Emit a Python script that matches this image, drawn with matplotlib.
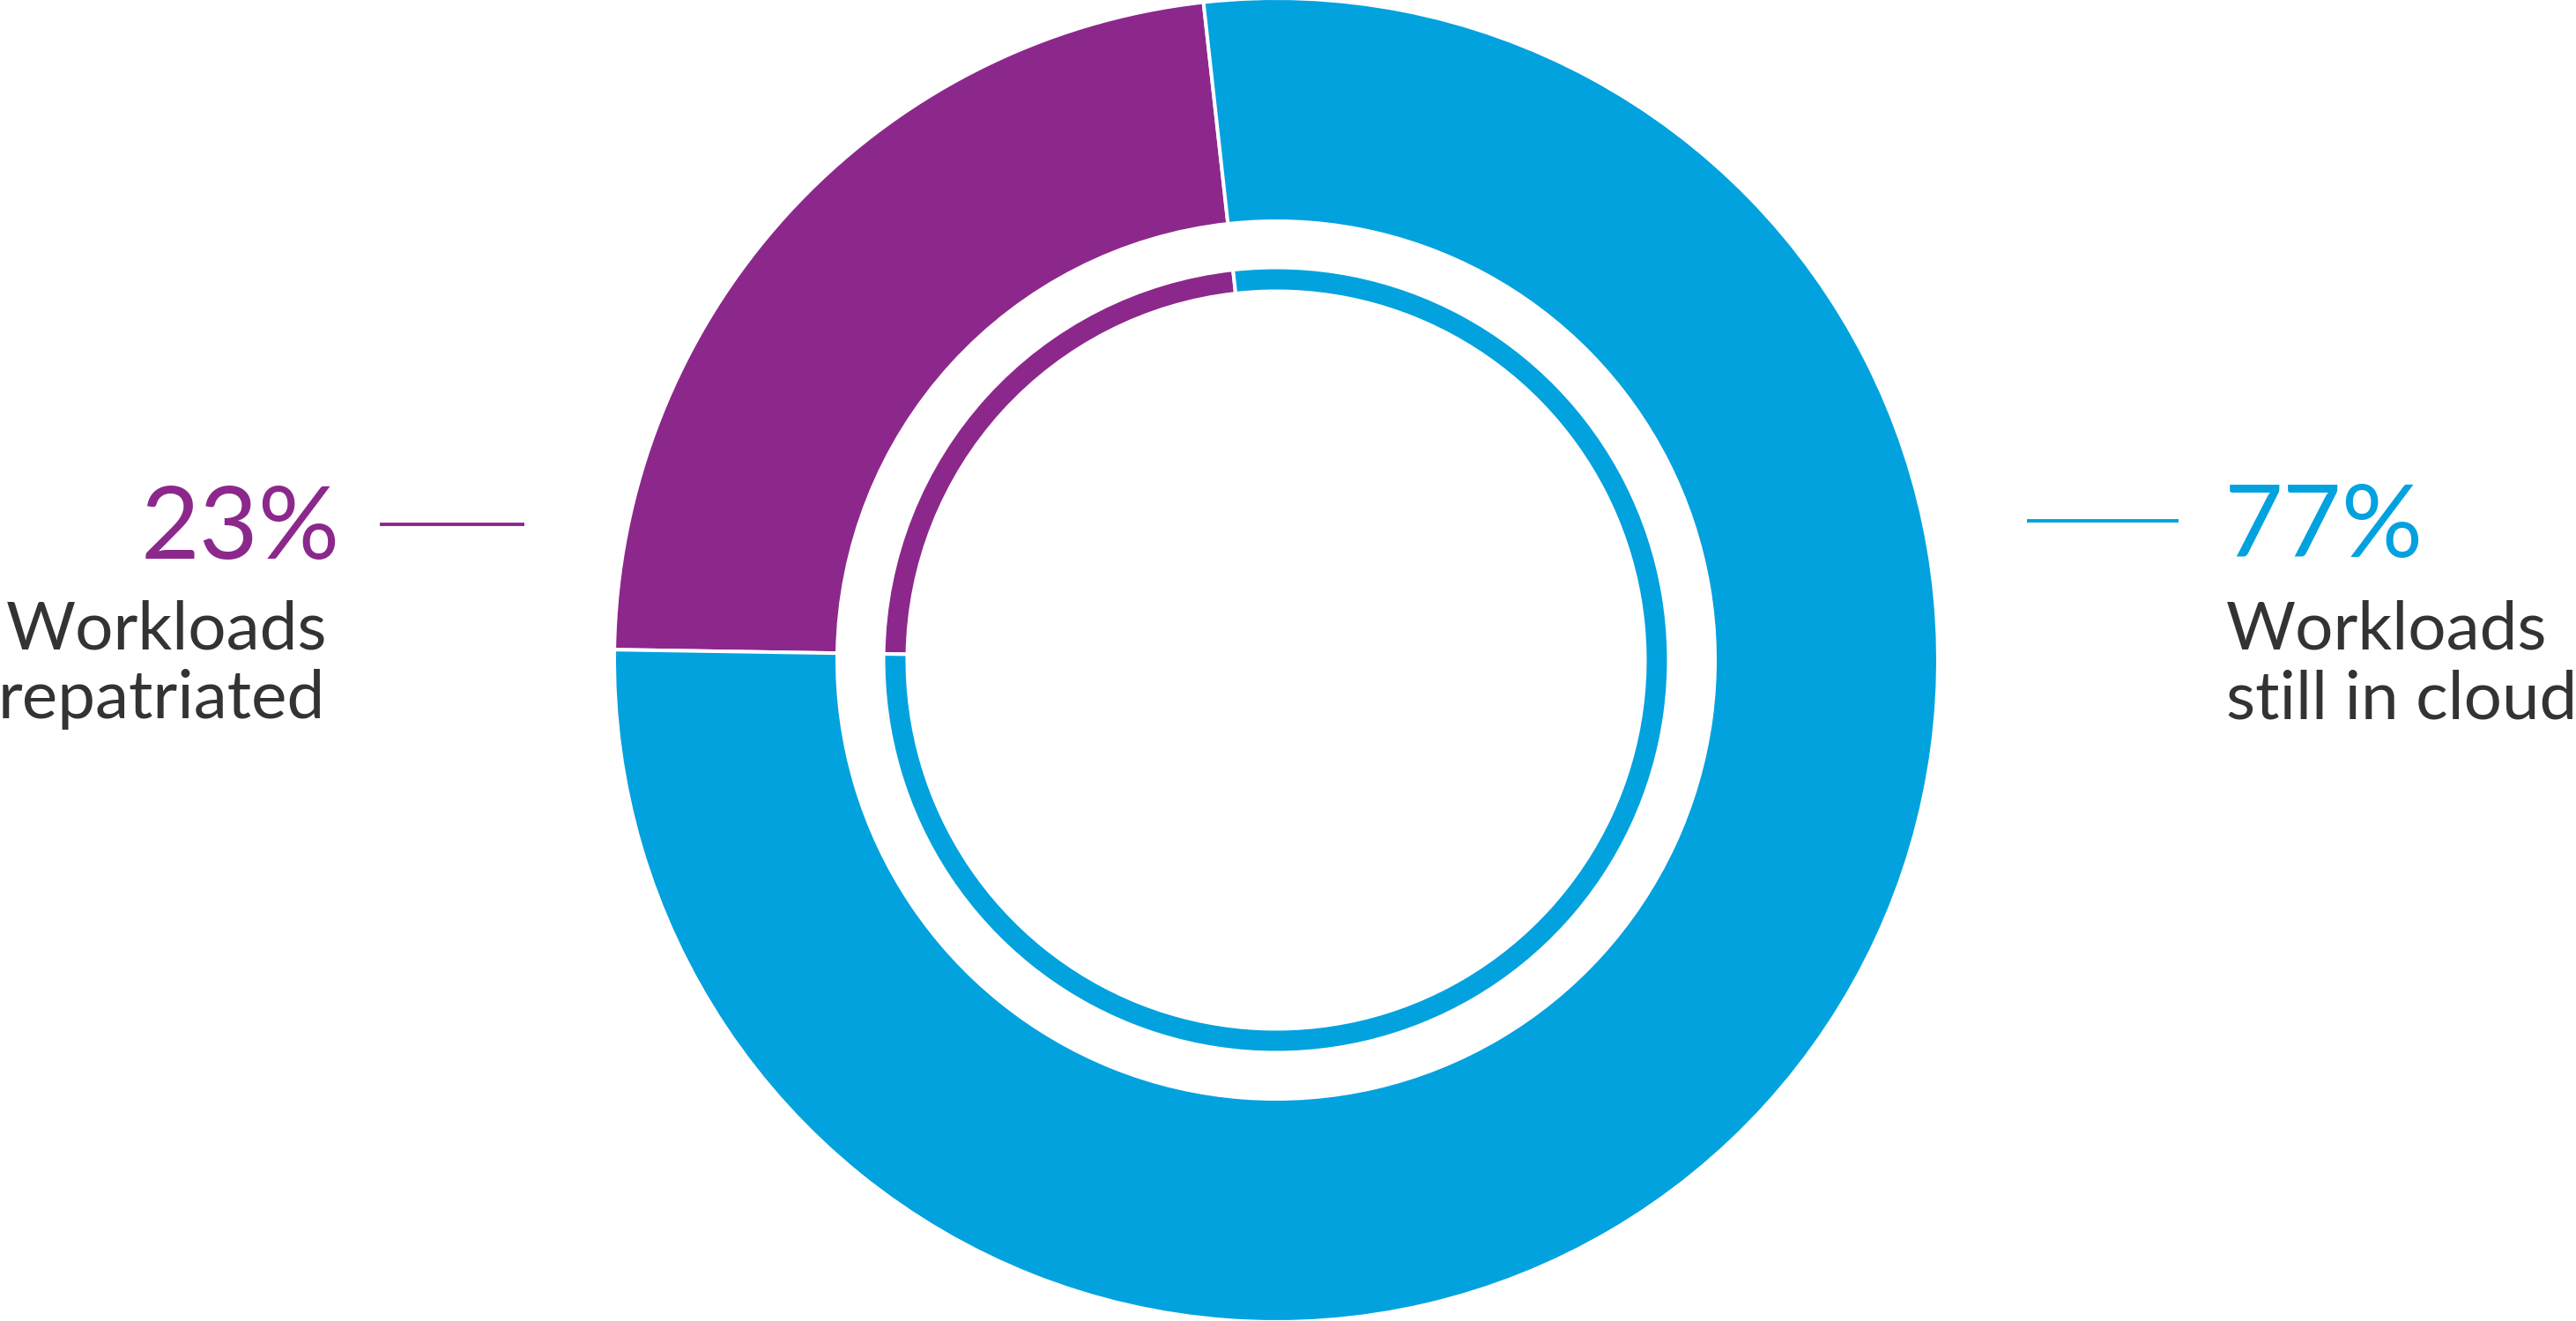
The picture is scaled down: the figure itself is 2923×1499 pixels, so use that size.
import matplotlib
matplotlib.use("Agg")
import matplotlib.pyplot as plt

# ---- data ----
categories = ["Workloads repatriated", "Workloads still in cloud"]
label_lines = [["Workloads", "repatriated"], ["Workloads", "still in cloud"]]
values = [23, 77]
colors = ["#8C288C", "#02A2DF"]
text_color = "#333333"
font = "Lato"

W, H = 2923, 1499
fig = plt.figure(figsize=(W / 100, H / 100), dpi=100)
ax = fig.add_axes([0, 0, 1, 1])

cx, cy = 1448, H - 749
start = 179.1  # angle of left boundary (degrees)

# outer thick ring
ax.pie(values, colors=colors, startangle=start, counterclock=False,
       radius=751, center=(cx, cy), frame=True,
       wedgeprops=dict(width=253, edgecolor="white", linewidth=2.9))
# inner thin ring
ax.pie(values, colors=colors, startangle=start, counterclock=False,
       radius=445.5, center=(cx, cy), frame=True,
       wedgeprops=dict(width=27, edgecolor="white", linewidth=2.9))
ax.set_xlim(0, W)
ax.set_ylim(0, H)
ax.set_aspect("equal")
ax.axis("off")

def Y(y):
    return H - y

pct_size = 83
lab_size = 55

# left label (first category)
ax.text(386, Y(634), f"{values[0]}%", color=colors[0], fontsize=pct_size,
        family=font, ha="right", va="baseline")
ax.plot([431, 595], [Y(595), Y(595)], color=colors[0], lw=2.8, solid_capstyle="butt")
ax.text(371, Y(736), label_lines[0][0], color=text_color, fontsize=lab_size,
        family=font, ha="right", va="baseline")
ax.text(369, Y(815), label_lines[0][1], color=text_color, fontsize=lab_size,
        family=font, ha="right", va="baseline")

# right label (second category)
ax.text(2524, Y(632), f"{values[1]}%", color=colors[1], fontsize=pct_size,
        family=font, ha="left", va="baseline")
ax.plot([2300, 2472], [Y(591), Y(591)], color=colors[1], lw=2.8, solid_capstyle="butt")
ax.text(2526, Y(736), label_lines[1][0], color=text_color, fontsize=lab_size,
        family=font, ha="left", va="baseline")
ax.text(2526, Y(815), label_lines[1][1], color=text_color, fontsize=lab_size,
        family=font, ha="left", va="baseline")

fig.savefig("out.png", dpi=100, facecolor="white")
